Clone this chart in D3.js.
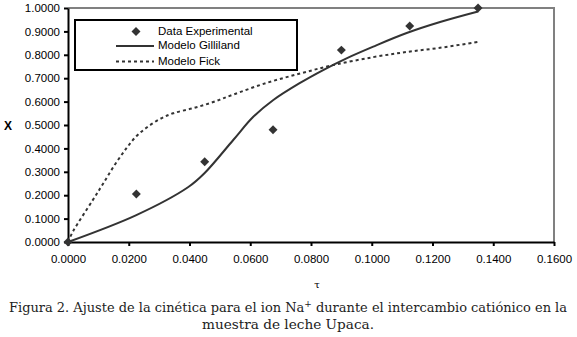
<!DOCTYPE html>
<html>
<head>
<meta charset="utf-8">
<script src="https://cdn.jsdelivr.net/npm/d3@7"></script>
<style>
  body { margin: 0; background: #fff; }
  svg { display: block; }
</style>
</head>
<body>
<svg id="chart" width="577" height="337"></svg>
<script>
// datos
const expTau = [0, 0.0225, 0.045, 0.0675, 0.09, 0.1125, 0.135];
const expX = [0, 0.205, 0.343, 0.48, 0.82, 0.923, 1.0];

const gillTau = [0, 0.0225, 0.0395, 0.045, 0.0544, 0.061, 0.0676, 0.0764, 0.084, 0.0917, 0.1005, 0.1115, 0.1225, 0.135];
const gillX = [0, 0.115, 0.234, 0.295, 0.436, 0.535, 0.607, 0.68, 0.735, 0.785, 0.835, 0.893, 0.94, 0.985];

const fickTau = [0, 0.0016, 0.0082, 0.0115, 0.0154, 0.0192, 0.0225, 0.0258, 0.0302, 0.0346, 0.0412, 0.0478, 0.0544, 0.0654, 0.0764, 0.0873, 0.1005, 0.1115, 0.1225, 0.135];
const fickX = [0, 0.044, 0.18, 0.248, 0.33, 0.4, 0.452, 0.488, 0.525, 0.55, 0.572, 0.598, 0.63, 0.68, 0.72, 0.756, 0.79, 0.812, 0.83, 0.855];

const xTicks = [0, 0.02, 0.04, 0.06, 0.08, 0.10, 0.12, 0.14, 0.16];
const yTicks = [0, 0.1, 0.2, 0.3, 0.4, 0.5, 0.6, 0.7, 0.8, 0.9, 1.0];
const legendLabels = ['Data Experimental', 'Modelo Gilliland', 'Modelo Fick'];
const captionLines = [
  'Figura 2. Ajuste de la cinética para el ion Na',
  'muestra  de leche Upaca.'
];

const svg = d3.select('#chart');
const margin = { left: 68, right: 23, top: 8, bottom: 95 };
const W = 577, H = 337;
const ink = '#333';

const x = d3.scaleLinear([0, 0.16], [margin.left, W - margin.right]);
const y = d3.scaleLinear([0, 1], [H - margin.bottom, margin.top]);

// borde gris superior y derecho
svg.append('path')
  .attr('d', `M${x(0)},${y(1)}H${x(0.16)}V${y(0)}`)
  .attr('fill', 'none')
  .attr('stroke', '#808080')
  .attr('stroke-width', 2);

const fmt = d3.format('.4f');

const gx = svg.append('g')
  .attr('transform', `translate(0,${y(0)})`)
  .call(d3.axisBottom(x).tickValues(xTicks).tickFormat(fmt).tickSize(4).tickSizeOuter(0));
const gy = svg.append('g')
  .attr('transform', `translate(${x(0)},0)`)
  .call(d3.axisLeft(y).tickValues(yTicks).tickFormat(fmt).tickSize(4).tickSizeOuter(0));

[gx, gy].forEach(g => {
  g.select('.domain').attr('stroke', '#000').attr('stroke-width', 2);
  g.selectAll('.tick line').attr('stroke', '#000').attr('stroke-width', 2);
  g.selectAll('.tick text')
    .attr('fill', '#000')
    .style('font-family', '"Liberation Sans", Arial, sans-serif')
    .style('font-size', '11.5px');
});
gx.selectAll('.tick text').attr('dy', '1.2em');
gy.selectAll('.tick text').attr('x', -8);

// titulos de ejes
svg.append('text')
  .attr('x', 8).attr('y', 127)
  .attr('text-anchor', 'middle')
  .attr('dominant-baseline', 'middle')
  .style('font-family', '"Liberation Sans", Arial, sans-serif')
  .style('font-size', '12px')
  .style('font-weight', 'bold')
  .text('X');

svg.append('text')
  .attr('x', x(0.08) + 6).attr('y', 288)
  .attr('text-anchor', 'middle')
  .style('font-family', '"DejaVu Serif", serif')
  .style('font-size', '10px')
  .text('τ');

// curvas
const line = d3.line()
  .x(d => x(d[0]))
  .y(d => y(d[1]))
  .curve(d3.curveCatmullRom.alpha(0.5));

svg.append('path')
  .datum(fickTau.map((t, i) => [t, fickX[i]]))
  .attr('d', line)
  .attr('fill', 'none')
  .attr('stroke', ink)
  .attr('stroke-width', 2)
  .attr('stroke-dasharray', '3,3');

svg.append('path')
  .datum(gillTau.map((t, i) => [t, gillX[i]]))
  .attr('d', line)
  .attr('fill', 'none')
  .attr('stroke', ink)
  .attr('stroke-width', 2);

const diamond = d3.symbol().type(d3.symbolSquare).size(40);

svg.append('g')
  .selectAll('.exp-point')
  .data(expTau.map((t, i) => [t, expX[i]]))
  .join('path')
    .attr('class', 'exp-point')
    .attr('d', diamond)
    .attr('transform', d => `translate(${x(d[0])},${y(d[1])}) rotate(45)`)
    .attr('fill', ink);

// leyenda
const lg = svg.append('g');
lg.append('rect')
  .attr('x', 75).attr('y', 20)
  .attr('width', 222).attr('height', 50)
  .attr('fill', '#fff')
  .attr('stroke', '#000')
  .attr('stroke-width', 2);

const rowY = [31.5, 46, 61.5];
lg.append('path')
  .attr('d', diamond)
  .attr('transform', `translate(136,${rowY[0]}) rotate(45)`)
  .attr('fill', ink);
lg.append('line')
  .attr('x1', 116).attr('x2', 154)
  .attr('y1', rowY[1]).attr('y2', rowY[1])
  .attr('stroke', ink).attr('stroke-width', 2);
lg.append('line')
  .attr('x1', 116).attr('x2', 154)
  .attr('y1', rowY[2]).attr('y2', rowY[2])
  .attr('stroke', ink).attr('stroke-width', 2)
  .attr('stroke-dasharray', '3,3');

lg.selectAll('.leg-text')
  .data(legendLabels)
  .join('text')
    .attr('class', 'leg-text')
    .attr('x', 158)
    .attr('y', (d, i) => rowY[i])
    .attr('dominant-baseline', 'middle')
    .style('font-family', '"Liberation Sans", Arial, sans-serif')
    .style('font-size', '11.5px')
    .text(d => d);

// pie de figura
const cap = svg.append('g')
  .style('font-family', '"DejaVu Serif", "Liberation Serif", serif')
  .style('font-size', '13px')
  .attr('fill', '#222');

const t1 = cap.append('text')
  .attr('x', 288).attr('y', 312)
  .attr('text-anchor', 'middle')
  .attr('textLength', 558)
  .attr('lengthAdjust', 'spacingAndGlyphs');
t1.append('tspan').text(captionLines[0]);
t1.append('tspan').attr('dy', -5).style('font-size', '9px').text('+');
t1.append('tspan').attr('dy', 5).text(' durante el intercambio catiónico en la');

cap.append('text')
  .attr('x', 288).attr('y', 329)
  .attr('text-anchor', 'middle')
  .attr('textLength', 172)
  .attr('lengthAdjust', 'spacingAndGlyphs')
  .text(captionLines[1]);
</script>
</body>
</html>
